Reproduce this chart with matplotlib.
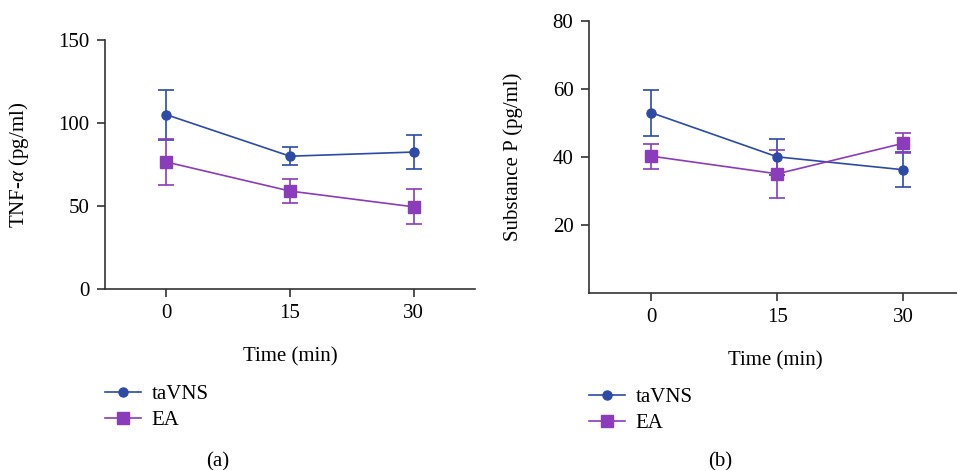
import numpy as np
import matplotlib.pyplot as plt
from matplotlib.lines import Line2D

# Time points (min)
time = [0, 15, 30]

# (a) TNF-alpha (pg/ml)
tnf_tavns = [105, 80, 82.5]
tnf_tavns_err = [15, 5.5, 10.5]
tnf_ea = [76.5, 59, 49.5]
tnf_ea_err = [14, 7, 10.5]

# (b) Substance P (pg/ml)
sp_tavns = [53, 40, 36.2]
sp_tavns_err = [6.8, 5.4, 5.2]
sp_ea = [40.2, 35, 44]
sp_ea_err = [3.7, 7, 2.9]

blue = "#2c4aa6"
purple = "#8a3cba"
fs = 15

plt.rcParams["font.family"] = ["Liberation Serif", "DejaVu Serif"]
plt.rcParams["font.size"] = fs
plt.rcParams["mathtext.fontset"] = "custom"
plt.rcParams["mathtext.rm"] = "Liberation Serif"
plt.rcParams["mathtext.it"] = "Liberation Serif:italic"

fig = plt.figure(figsize=(9.57, 4.70), dpi=100)
W, H = 957, 470


def make_ax(left, bottom, right, top):
    return fig.add_axes([left / W, 1 - bottom / H, (right - left) / W, (bottom - top) / H])


def style(ax, ylim, yticks):
    ax.set_xlim(-7.45, 37.45)
    ax.set_ylim(*ylim)
    ax.set_xticks(time)
    ax.set_yticks(yticks)
    for s in ["top", "right"]:
        ax.spines[s].set_visible(False)
    for s in ["left", "bottom"]:
        ax.spines[s].set_color("#333333")
        ax.spines[s].set_linewidth(1.2)
    ax.tick_params(length=6, width=1.2, color="#333333", labelsize=fs, pad=5)
    ax.set_xlabel("Time (min)", fontsize=fs)


def draw(ax, y1, e1, y2, e2):
    ax.errorbar(time, y1, yerr=e1, color=blue, marker="o", markersize=6.5,
                lw=1.2, elinewidth=1.2, capsize=5.5, capthick=1.2)
    ax.errorbar(time, y2, yerr=e2, color=purple, marker="s", markersize=8,
                lw=1.2, elinewidth=1.2, capsize=5.5, capthick=1.2)


handles = [Line2D([], [], color=blue, marker="o", markersize=6.5, lw=1.2),
           Line2D([], [], color=purple, marker="s", markersize=8, lw=1.2)]

# panel (a)
ax1 = make_ax(105, 289, 475, 40)
style(ax1, (0, 150), [0, 50, 100, 150])
draw(ax1, tnf_tavns, tnf_tavns_err, tnf_ea, tnf_ea_err)
ax1.set_ylabel("TNF-$\\alpha$ (pg/ml)", fontsize=fs)
ax1.yaxis.set_label_coords(-0.2, 0.5)
ax1.xaxis.set_label_coords(0.5, -0.233)
ax1.legend(handles, ["taVNS", "EA"], loc="upper left", bbox_to_anchor=(86 / W, 1 - 366 / H),
           bbox_transform=fig.transFigure, frameon=False, handlelength=1.75,
           handletextpad=0.5, labelspacing=0.3, fontsize=fs)
fig.text(218 / W, 1 - 462 / H, "(a)", ha="center", va="center", fontsize=fs)

# panel (b)
ax2 = make_ax(588.7, 292.7, 965.9, 21)
style(ax2, (0, 80), [20, 40, 60, 80])
draw(ax2, sp_tavns, sp_tavns_err, sp_ea, sp_ea_err)
ax2.set_ylabel("Substance P (pg/ml)", fontsize=fs)
ax2.yaxis.set_label_coords(-0.174, 0.5)
ax2.xaxis.set_label_coords(0.494, -0.215)
ax2.legend(handles, ["taVNS", "EA"], loc="upper left", bbox_to_anchor=(570 / W, 1 - 369 / H),
           bbox_transform=fig.transFigure, frameon=False, handlelength=1.75,
           handletextpad=0.5, labelspacing=0.3, fontsize=fs)
fig.text(720 / W, 1 - 462 / H, "(b)", ha="center", va="center", fontsize=fs)

fig.savefig("out.png", dpi=100)
